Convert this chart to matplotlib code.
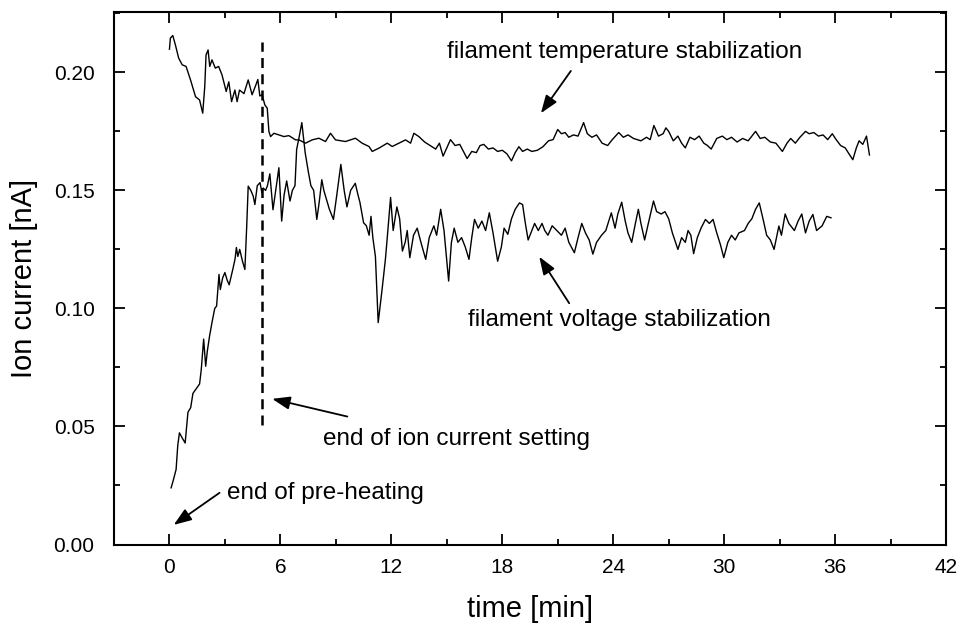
import numpy as np
import matplotlib
matplotlib.use("Agg")
import matplotlib.pyplot as plt
from matplotlib.ticker import MultipleLocator, FormatStrFormatter

# upper curve: filament temperature stabilization
temp_t = [0.0, 0.05, 0.18, 0.32, 0.5, 0.69, 0.9, 1.14, 1.41, 1.63, 1.8, 1.91, 1.98, 2.09,
          2.18, 2.3, 2.48, 2.66, 2.84, 3.07, 3.21, 3.36, 3.54, 3.66, 3.79, 4.03, 4.26, 4.47,
          4.69, 4.78, 4.89, 5.01, 5.16, 5.29, 5.38, 5.47, 5.65, 5.92, 6.19, 6.46, 6.82, 7.0,
          7.36, 7.72, 8.08, 8.44, 8.71, 8.98, 9.52, 10.06, 10.42, 10.79, 10.97, 11.33, 11.78,
          12.05, 12.41, 12.77, 13.04, 13.22, 13.49,
          13.8, 14.1, 14.4, 14.6, 14.8, 15.0, 15.2, 15.45, 15.7, 15.9, 16.1, 16.35, 16.6, 16.8,
          17.0, 17.25, 17.5, 17.75, 18.0, 18.25, 18.5, 18.7, 18.9, 19.1, 19.35, 19.6, 19.9,
          20.2, 20.5, 20.75, 21.0, 21.2, 21.4, 21.6, 21.85, 22.1, 22.4, 22.6, 22.85, 23.1,
          23.4, 23.7, 23.95, 24.3, 24.55, 24.8, 25.1, 25.5, 25.8, 26.0, 26.2, 26.45, 26.7,
          26.85, 27.0, 27.25, 27.5, 27.7, 27.9, 28.15, 28.4, 28.65, 28.9, 29.1, 29.3, 29.6,
          29.9, 30.15, 30.4, 30.7, 31.0, 31.3, 31.5, 31.7, 31.95, 32.2, 32.5, 32.8, 33.15,
          33.4, 33.6, 33.85, 34.1, 34.4, 34.6, 34.85, 35.1, 35.35, 35.6, 35.85, 36.05, 36.3,
          36.55, 36.75, 36.96, 37.15, 37.3, 37.5, 37.7, 37.86]
temp_i = [0.2098, 0.2145, 0.2156, 0.2117, 0.206, 0.2032, 0.2025, 0.1968, 0.1897, 0.1883,
          0.1827, 0.194, 0.2074, 0.2095, 0.2025, 0.2053, 0.2018, 0.2025, 0.199, 0.1919, 0.196,
          0.1876, 0.1925, 0.1876, 0.1925, 0.191, 0.1968, 0.1905, 0.195, 0.197, 0.190, 0.1905,
          0.1862, 0.1848, 0.1749, 0.1728, 0.1742, 0.1735, 0.1728, 0.1732, 0.1714, 0.1714,
          0.170, 0.1714, 0.1721, 0.1707, 0.1742, 0.1714, 0.1707, 0.1721, 0.170, 0.1686, 0.1665,
          0.1679, 0.170, 0.1686, 0.170, 0.1714, 0.170, 0.1742, 0.1728,
          0.1705, 0.1690, 0.1675, 0.1700, 0.1645, 0.1680, 0.1715, 0.1690, 0.1695, 0.1665,
          0.1635, 0.1665, 0.1660, 0.1690, 0.1695, 0.1675, 0.1680, 0.1665, 0.1670, 0.1655,
          0.1625, 0.1660, 0.1685, 0.1665, 0.1675, 0.1665, 0.1670, 0.1685, 0.1710, 0.1715,
          0.1758, 0.1740, 0.1745, 0.1725, 0.1735, 0.1730, 0.1787, 0.1740, 0.1725, 0.1735,
          0.1700, 0.1690, 0.1715, 0.1745, 0.1725, 0.1735, 0.1720, 0.1710, 0.1725, 0.1715,
          0.1775, 0.1730, 0.1740, 0.1765, 0.1750, 0.1710, 0.1730, 0.1700, 0.1680, 0.1725,
          0.1715, 0.1730, 0.1700, 0.1690, 0.1675, 0.1720, 0.1730, 0.1715, 0.1725, 0.1705,
          0.1720, 0.1710, 0.1730, 0.1750, 0.1720, 0.1725, 0.1705, 0.1700, 0.1665, 0.1700,
          0.1720, 0.1700, 0.1725, 0.1750, 0.1740, 0.1745, 0.1730, 0.1735, 0.1715, 0.1740,
          0.1716, 0.1690, 0.1680, 0.1655, 0.1630, 0.1680, 0.1710, 0.1695, 0.1730, 0.1650]

# lower curve: filament voltage stabilization
volt_t = [0.09, 0.2, 0.36, 0.45, 0.54, 0.7, 0.85, 1.0, 1.15, 1.27, 1.45, 1.63, 1.72, 1.85,
          1.96, 2.05, 2.17, 2.3, 2.45, 2.55, 2.68, 2.75, 2.88, 3.0, 3.12, 3.23, 3.35, 3.44,
          3.55, 3.62, 3.7, 3.8, 3.95, 4.08, 4.18, 4.26, 4.4, 4.53, 4.62, 4.75, 4.9, 5.0, 5.07,
          5.2, 5.3, 5.43, 5.6, 5.75, 5.92, 6.07, 6.2, 6.34, 6.52, 6.65, 6.79, 6.88, 7.0, 7.16,
          7.34, 7.52, 7.65, 7.8, 7.97, 8.1, 8.24, 8.35, 8.5, 8.65, 8.87, 9.05, 9.27, 9.45, 9.6,
          9.8, 10.05, 10.2, 10.3, 10.5, 10.65, 10.8, 10.9, 11.0, 11.14, 11.29, 11.5, 11.68,
          11.77, 11.96, 12.1, 12.3, 12.45, 12.6, 12.75, 12.86, 13.0, 13.2, 13.4, 13.6, 13.86,
          14.05, 14.3, 14.45, 14.67, 14.85, 15.1, 15.25, 15.4, 15.6, 15.8, 16.0, 16.2, 16.35,
          16.5, 16.7, 16.9, 17.1, 17.3, 17.5, 17.75, 17.95, 18.1, 18.3, 18.5, 18.7, 18.93,
          19.1, 19.25, 19.4, 19.6, 19.75, 19.95, 20.15, 20.3, 20.47, 20.7, 20.95, 21.2, 21.4,
          21.6, 21.9, 22.1, 22.3, 22.5, 22.7, 22.9, 23.1, 23.37, 23.6, 23.9, 24.1, 24.25,
          24.46, 24.65, 24.8, 25.0, 25.2, 25.36, 25.5, 25.7, 25.9, 26.18, 26.35, 26.6, 26.8,
          27.0, 27.2, 27.5, 27.7, 27.9, 28.05, 28.2, 28.35, 28.55, 28.75, 28.99, 29.2, 29.4,
          29.6, 29.8, 29.98, 30.2, 30.4, 30.6, 30.8, 31.1, 31.3, 31.5, 31.7, 31.9, 32.1, 32.3,
          32.5, 32.7, 32.96, 33.1, 33.3, 33.5, 33.8, 34.0, 34.2, 34.4, 34.6, 34.8, 35.0, 35.3,
          35.55, 35.78]
volt_i = [0.0240, 0.0270, 0.0318, 0.042, 0.0473, 0.045, 0.043, 0.056, 0.058, 0.064, 0.066,
          0.068, 0.074, 0.087, 0.0755, 0.082, 0.0883, 0.094, 0.100, 0.101, 0.1144, 0.108,
          0.113, 0.1152, 0.112, 0.110, 0.114, 0.117, 0.121, 0.1258, 0.122, 0.125, 0.120,
          0.1165, 0.135, 0.1518, 0.150, 0.1476, 0.144, 0.152, 0.1533, 0.149, 0.151, 0.150,
          0.152, 0.157, 0.1418, 0.150, 0.1596, 0.137, 0.148, 0.154, 0.1455, 0.150, 0.152,
          0.1674, 0.172, 0.1787, 0.166, 0.1575, 0.152, 0.150, 0.1377, 0.145, 0.1545, 0.150,
          0.146, 0.142, 0.1377, 0.148, 0.161, 0.150, 0.143, 0.150, 0.153, 0.148, 0.145,
          0.1363, 0.135, 0.131, 0.139, 0.130, 0.122, 0.094, 0.108, 0.1208, 0.129, 0.147,
          0.133, 0.143, 0.138, 0.1243, 0.128, 0.133, 0.1215, 0.131, 0.134, 0.128, 0.1208,
          0.130, 0.135, 0.131, 0.142, 0.133, 0.1116, 0.128, 0.134, 0.128, 0.130, 0.126,
          0.1208, 0.130, 0.1377, 0.134, 0.137, 0.133, 0.1405, 0.132, 0.120, 0.126, 0.134,
          0.1314, 0.138, 0.142, 0.1447, 0.144, 0.136, 0.129, 0.133, 0.136, 0.133, 0.136,
          0.133, 0.131, 0.135, 0.133, 0.131, 0.134, 0.128, 0.1236, 0.130, 0.136, 0.132,
          0.129, 0.123, 0.128, 0.131, 0.133, 0.1405, 0.134, 0.140, 0.145, 0.137, 0.132,
          0.128, 0.136, 0.142, 0.136, 0.129, 0.136, 0.1455, 0.141, 0.140, 0.141, 0.138,
          0.132, 0.125, 0.130, 0.128, 0.133, 0.131, 0.1232, 0.130, 0.134, 0.1377, 0.136,
          0.1377, 0.132, 0.127, 0.1215, 0.128, 0.131, 0.129, 0.132, 0.133, 0.136, 0.138,
          0.142, 0.1447, 0.138, 0.131, 0.129, 0.125, 0.1349, 0.131, 0.140, 0.136, 0.133,
          0.137, 0.140, 0.132, 0.137, 0.1398, 0.133, 0.135, 0.139, 0.1384]

setting_time = 5.0
xticks = [0, 6, 12, 18, 24, 30, 36, 42]
yticks = [0.00, 0.05, 0.10, 0.15, 0.20]

plt.rcParams['font.family'] = ['Liberation Sans', 'DejaVu Sans']

fig = plt.figure(figsize=(9.61, 6.25), dpi=100)
ax = fig.add_axes([0.1186, 0.1288, 0.8658, 0.8525])

ax.plot(temp_t, temp_i, color='black', lw=1.0)
ax.plot(volt_t, volt_i, color='black', lw=1.0)
ax.plot([setting_time, setting_time], [0.0506, 0.213], color='black', lw=1.8,
        dashes=(4, 2.5))

ax.set_xlim(-3, 42)
ax.set_ylim(0, 0.2257)
ax.set_xticks(xticks)
ax.set_yticks(yticks)
ax.xaxis.set_minor_locator(MultipleLocator(3))
ax.yaxis.set_minor_locator(MultipleLocator(0.025))
ax.yaxis.set_major_formatter(FormatStrFormatter('%.2f'))
ax.tick_params(which='both', direction='in', top=True, right=True, width=1.3)
ax.tick_params(which='major', length=8, labelsize=15)
ax.tick_params(which='minor', length=4.5)
ax.tick_params(axis='x', which='major', pad=10)
ax.tick_params(axis='y', which='major', pad=14)
for s in ax.spines.values():
    s.set_linewidth(1.5)

ax.set_xlabel('time [min]', fontsize=21, labelpad=13)
ax.set_ylabel('Ion current [nA]', fontsize=21, labelpad=11)

fs = 17.5
ax.text(24.62, 0.2087, 'filament temperature stabilization', fontsize=fs,
        ha='center', va='center')
ax.text(24.35, 0.0951, 'filament voltage stabilization', fontsize=fs,
        ha='center', va='center')
ax.text(15.5, 0.0447, 'end of ion current setting', fontsize=fs,
        ha='center', va='center')
ax.text(8.41, 0.0218, 'end of pre-heating', fontsize=fs, ha='center', va='center')

arrows = [((20.09, 0.1827), (21.71, 0.2006)),
          ((20.0, 0.1219), (21.62, 0.1022)),
          ((5.555, 0.0617), (9.62, 0.0542)),
          ((0.23, 0.0083), (2.71, 0.0219))]
for tip, tail in arrows:
    ax.annotate('', xy=tip, xytext=tail,
                arrowprops=dict(arrowstyle='-|>,head_length=0.6,head_width=0.22',
                                color='black', lw=1.3,
                                mutation_scale=18, shrinkA=0, shrinkB=0))

fig.savefig('out.png', dpi=100)
